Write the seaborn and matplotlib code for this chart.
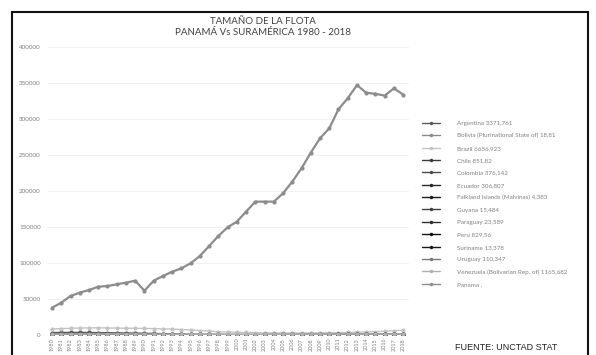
import numpy as np
import pandas as pd
import seaborn as sns
import matplotlib
matplotlib.use("Agg")
import matplotlib.pyplot as plt
from matplotlib.lines import Line2D
from matplotlib.patches import Rectangle

years = list(range(1980, 2019))

panama = [37900, 44900, 54200, 58800, 62500, 67100, 68000, 70400, 72700, 75400,
          61500, 75400, 81900, 87900, 92600, 99600, 109700, 123600, 137500, 149600,
          157400, 171300, 185200, 185200, 185200, 196800, 213000, 231500, 253200, 273200,
          287000, 313500, 328800, 347000, 336500, 335000, 332500, 342600, 334000]

brazil = [8400, 8900, 9300, 9700, 9900, 10000, 9800, 9600, 9400, 9300,
          9100, 8900, 8500, 8200, 7600, 7000, 6200, 5400, 4600, 4200,
          3800, 3500, 3300, 3000, 2900, 2800, 2700, 2700, 2800, 2900,
          3100, 3300, 3600, 3900, 4300, 4700, 5200, 5900, 6657]
argentina = [3400, 3500, 3600, 3600, 3500, 3300, 3200, 3000, 2800, 2600,
             2400, 2100, 1800, 1400, 1100, 900, 800, 700, 650, 600,
             600, 580, 560, 540, 520, 500, 500, 480, 470, 460,
             460, 450, 450, 440, 440, 430, 430, 420, 420]
venezuela = [1200, 1300, 1350, 1400, 1450, 1500, 1550, 1500, 1450, 1400,
             1350, 1300, 1250, 1200, 1150, 1100, 1050, 1000, 1000, 950,
             950, 900, 900, 900, 950, 1000, 1050, 1100, 1150, 1200,
             1250, 1300, 1300, 1250, 1200, 1200, 1150, 1150, 1166]
chile = [800, 850, 900, 950, 900, 850, 800, 750, 700, 700,
         650, 650, 700, 750, 800, 850, 800, 750, 700, 650,
         600, 600, 650, 700, 750, 800, 800, 850, 900, 900,
         850, 850, 850, 800, 850, 850, 850, 850, 852]
peru = [900, 950, 1000, 1000, 950, 900, 850, 800, 750, 700,
        650, 600, 550, 500, 450, 400, 400, 380, 360, 350,
        340, 330, 330, 340, 360, 400, 450, 500, 550, 600,
        650, 700, 750, 780, 800, 810, 820, 825, 830]
colombia = [450, 480, 500, 520, 500, 480, 460, 440, 420, 400,
            380, 360, 340, 320, 300, 290, 280, 270, 260, 250,
            250, 250, 260, 270, 280, 290, 300, 310, 320, 330,
            340, 350, 355, 360, 365, 370, 372, 375, 376]
ecuador = [400, 420, 440, 450, 440, 430, 420, 410, 400, 390,
           380, 370, 360, 350, 340, 330, 320, 310, 300, 290,
           280, 270, 260, 260, 260, 270, 280, 290, 300, 300,
           300, 305, 305, 306, 306, 307, 307, 307, 307]
uruguay = [180, 190, 200, 200, 190, 180, 170, 160, 150, 140,
           130, 120, 110, 100, 100, 100, 100, 100, 100, 100,
           100, 100, 100, 100, 100, 105, 105, 105, 110, 110,
           110, 110, 110, 110, 110, 110, 110, 110, 110]
paraguay = [20, 20, 22, 22, 22, 24, 24, 24, 25, 25,
            25, 25, 26, 26, 26, 26, 25, 25, 25, 25,
            24, 24, 24, 24, 24, 24, 24, 24, 24, 24,
            24, 24, 24, 24, 24, 24, 24, 24, 24]
guyana = [14, 14, 15, 15, 15, 15, 16, 16, 16, 16,
          16, 16, 16, 16, 16, 16, 16, 16, 16, 16,
          15, 15, 15, 15, 15, 15, 15, 15, 15, 15,
          15, 15, 15, 15, 15, 15, 15, 15, 15]
bolivia = [15, 15, 16, 16, 16, 17, 17, 17, 18, 18,
           18, 18, 19, 19, 19, 19, 19, 19, 19, 19,
           19, 19, 19, 19, 19, 19, 19, 19, 19, 19,
           19, 19, 19, 19, 19, 19, 19, 19, 19]
suriname = [10, 10, 11, 11, 11, 12, 12, 12, 12, 13,
            13, 13, 13, 13, 13, 13, 13, 13, 13, 13,
            13, 13, 13, 13, 13, 13, 13, 13, 13, 13,
            13, 13, 13, 13, 13, 13, 13, 13, 13]
falkland = [4, 4, 4, 4, 4, 4, 4, 4, 4, 4,
            4, 4, 4, 4, 4, 4, 4, 4, 4, 4,
            4, 4, 4, 4, 4, 4, 4, 4, 4, 4,
            4, 4, 4, 4, 4, 4, 4, 4, 4]

labels = ["Argentina 3371,761", "Bolivia (Plurinational State of) 18,81",
          "Brazil 6656,923", "Chile 851,82", "Colombia 376,142",
          "Ecuador 306,807", "Falkland Islands (Malvinas) 4,383",
          "Guyana 15,484", "Paraguay 23,589", "Peru 829,56",
          "Suriname 13,378", "Uruguay 110,347",
          "Venezuela (Bolivarian Rep. of) 1165,682", "Panama ,"]
series = [argentina, bolivia, brazil, chile, colombia, ecuador, falkland,
          guyana, paraguay, peru, suriname, uruguay, venezuela, panama]
colors = ["#5a5a5a", "#8a8a8a", "#c4c4c4", "#3a3a3a", "#4a4a4a", "#262626",
          "#1c1c1c", "#404040", "#2e2e2e", "#111111", "#181818", "#7a7a7a",
          "#b0b0b0", "#8c8c8c"]

rows = []
for lab, vals in zip(labels, series):
    for y, v in zip(years, vals):
        rows.append((lab, y, v))
df = pd.DataFrame(rows, columns=["country", "year", "value"])

sns.set_style("white")
plt.rcParams["font.family"] = ["Lato", "DejaVu Sans"]

fig = plt.figure(figsize=(5.96, 3.55), dpi=100)
ax = fig.add_axes([46.5 / 596, 1 - 335 / 355, (408.7 - 46.5) / 596, (335 - 47) / 355])

pal = dict(zip(labels, colors))
sizes = {lab: (1.6 if lab == "Panama ," else 1.0) for lab in labels}
sns.lineplot(data=df, x="year", y="value", hue="country", palette=pal,
             hue_order=labels, size="country", sizes=sizes, size_order=labels,
             marker="o", markersize=3, markeredgewidth=0,
             legend=False, ax=ax, sort=False)

ax.set_xlim(1979.4, 2018.6)
ax.set_ylim(0, 400000)
ax.set_yticks(np.arange(0, 400001, 50000))
ax.set_yticklabels([str(v) for v in range(0, 400001, 50000)])
ax.set_xticks(years)
ax.set_xticklabels([str(y) for y in years], rotation=90)
ax.tick_params(axis="y", labelsize=4.5, colors="#808080", length=2, width=0.5, pad=2)
ax.tick_params(axis="x", labelsize=4, colors="#808080", length=0, pad=2)
ax.yaxis.grid(True, color="#f0f0f0", linewidth=0.6)
ax.set_xlabel("")
ax.set_ylabel("")
for s in ax.spines.values():
    s.set_visible(False)

fig.text(263 / 596, 1 - 27 / 355, "TAMAÑO DE LA FLOTA\nPANAMÁ Vs SURAMÉRICA 1980 - 2018",
         ha="center", va="center", fontsize=7, color="#404040", linespacing=1.3)

handles = [Line2D([0], [0], color=c, lw=1.0, marker="o", markersize=2.5,
                  markeredgewidth=0) for c in colors]
fig.legend(handles, labels, loc="upper left", bbox_to_anchor=(416 / 596, 1 - 115 / 355),
           frameon=False, fontsize=4.5, handlelength=3.0, handletextpad=2.6,
           labelspacing=1.12, labelcolor="#808080")

fig.text(506 / 596, 1 - 347 / 355, "FUENTE: UNCTAD STAT", ha="center", va="center",
         fontsize=6.5, color="#222222", family=["Liberation Sans", "DejaVu Sans"])

fig.patches.append(Rectangle((12 / 596, -0.02), (588 - 12) / 596, 1.02 - 12 / 355,
                             transform=fig.transFigure, fill=False,
                             edgecolor="#111111", linewidth=1.5))

fig.savefig("out.png", dpi=100)
